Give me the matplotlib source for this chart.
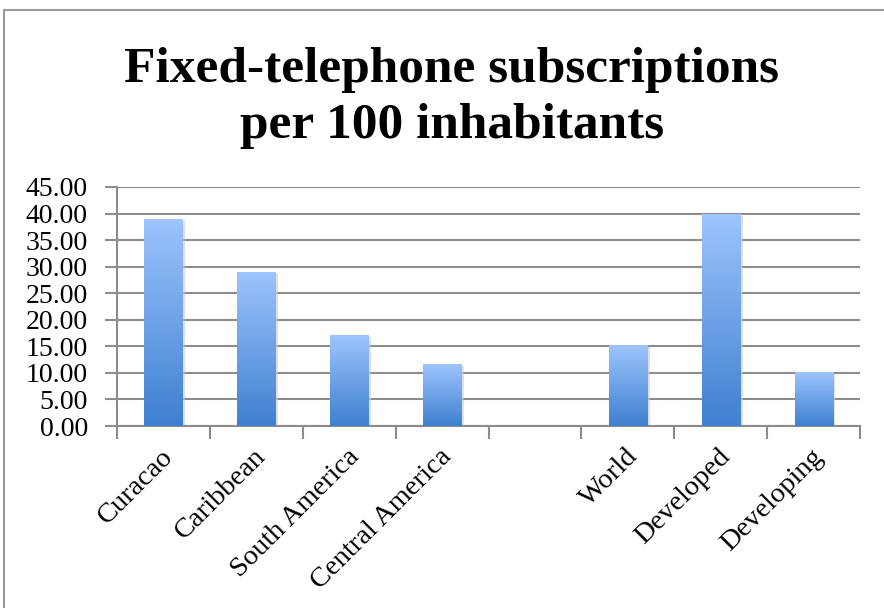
import matplotlib.pyplot as plt
import numpy as np
from matplotlib.colors import LinearSegmentedColormap
from matplotlib.lines import Line2D

categories = ['Curacao', 'Caribbean', 'South America', 'Central America', '',
              'World', 'Developed', 'Developing']
values = [38.9, 28.9, 17.1, 11.6, np.nan, 15.1, 39.9, 10.0]
yticks = [0, 5, 10, 15, 20, 25, 30, 35, 40, 45]
title_lines = ['Fixed-telephone subscriptions', 'per 100 inhabitants']

serif = ['Liberation Serif', 'DejaVu Serif']
W, H = 884, 608
fig = plt.figure(figsize=(W / 100, H / 100), dpi=100)
ax = fig.add_axes([117 / W, 182 / H, 743 / W, 239 / H])

x = np.arange(len(categories))
width = 0.41
cmap = LinearSegmentedColormap.from_list('bar', ['#3e80d0', '#9dc4fd'])
grad = np.linspace(0, 1, 256).reshape(-1, 1)

bars = ax.bar(x, np.nan_to_num(values), width=width, color='none', zorder=3)
for b in bars:
    h = b.get_height()
    if h <= 0:
        continue
    x0 = b.get_x()
    # soft shadow
    ax.add_patch(plt.Rectangle((x0 + 0.03, 0), width, h - 0.3, color='#cccccc',
                               alpha=0.6, zorder=2, lw=0))
    ax.imshow(grad, cmap=cmap, origin='lower', aspect='auto',
              extent=(x0, x0 + width, 0, h), zorder=3)

ax.set_xlim(-0.5, len(categories) - 0.5)
ax.set_ylim(0, 45)
ax.set_yticks(yticks)
ax.set_yticklabels([f'{v:.2f}' for v in yticks], family=serif, fontsize=20)
ax.yaxis.grid(True, color='#8c8c8c', lw=1.5, zorder=1)
ax.set_axisbelow(True)

ax.set_xticks(np.append(x - 0.5, len(categories) - 0.5))
ax.set_xticklabels([])
ax.tick_params(axis='x', length=9, width=1.5, color='#8c8c8c')
ax.tick_params(axis='y', length=9, width=1.5, color='#8c8c8c', pad=12)
for i, c in enumerate(categories):
    ax.text(i - 0.03, -3.4, c, rotation=45, ha='right', va='top',
            rotation_mode='anchor', family=serif, fontsize=20.5)

for s in ['top', 'right']:
    ax.spines[s].set_visible(False)
for s in ['left', 'bottom']:
    ax.spines[s].set_color('#8c8c8c')
    ax.spines[s].set_linewidth(1.5)

for line, base in zip(title_lines, [82, 138]):
    fig.text(452 / W, 1 - base / H, line, ha='center', va='baseline',
             fontsize=37, fontweight='bold', family=serif)

# chart border
fig.add_artist(Line2D([4 / W, 4 / W], [0, 1 - 10 / H], color='#999999', lw=1.5))
fig.add_artist(Line2D([4 / W, 1], [1 - 10 / H, 1 - 10 / H], color='#999999', lw=1.5))

fig.savefig('out.png', dpi=100)
